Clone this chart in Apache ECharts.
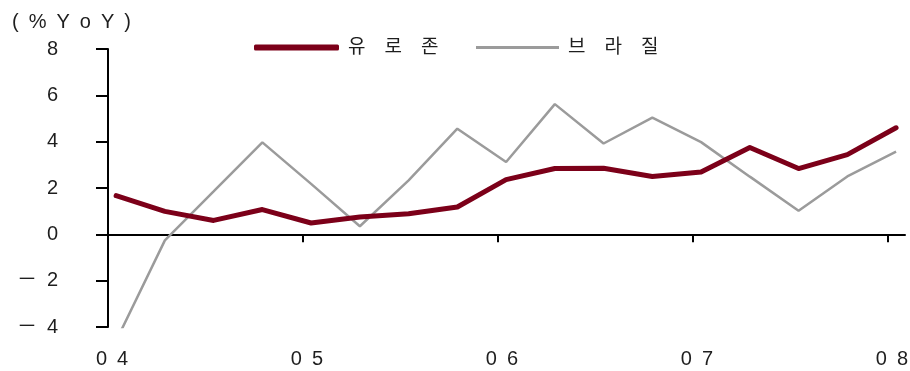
<!DOCTYPE html>
<html>
<head>
<meta charset="utf-8">
<script src="https://cdn.jsdelivr.net/npm/echarts@6/dist/echarts.min.js"></script>
<style>
  html, body { margin: 0; padding: 0; background: #fff; }
  #chart { width: 910px; height: 371px; }
</style>
</head>
<body>
<div id="chart"></div>
<script>
// Quarterly GDP growth, % YoY
const quarters = ['04Q1','04Q2','04Q3','04Q4','05Q1','05Q2','05Q3','05Q4',
                  '06Q1','06Q2','06Q3','06Q4','07Q1','07Q2','07Q3','07Q4','08Q1'];
const eurozone = [1.67, 0.99, 0.60, 1.07, 0.49, 0.75, 0.89, 1.18,
                  2.36, 2.84, 2.85, 2.50, 2.69, 3.75, 2.84, 3.44, 4.60];
const brazil   = [-4.60, -0.26, 1.85, 3.97, 2.18, 0.35, 2.33, 4.56,
                  3.12, 5.62, 3.92, 5.04, 3.98, 2.49, 1.02, 2.50, 3.57];
const yearLabels = ['04', '05', '06', '07', '08'];
const seriesNames = ['유로존', '브라질'];

// place each quarter's value half a month into its quarter (months since Jan 2004)
function quarterToMonth(q) {
  const yr = parseInt(q.slice(0, 2), 10) - 4;
  const qi = parseInt(q.slice(3), 10) - 1;
  return yr * 12 + qi * 3 + 0.5;
}
const pairs = (vals) => quarters.map((q, i) => [quarterToMonth(q), vals[i]]);

const spaced = (s, sep) => s.split('').join(sep);
const EN = '\u2002';
const FONT = '"Liberation Sans", "Noto Sans CJK KR", sans-serif';
const TXT = '#1e1e1e';

const chart = echarts.init(document.getElementById('chart'), null, { renderer: 'canvas' });
chart.setOption({
  animation: false,
  backgroundColor: '#ffffff',
  title: {
    text: spaced('(%YoY)', EN),
    left: 7, top: 7,
    textStyle: { fontFamily: FONT, fontSize: 20, fontWeight: 'normal', color: TXT }
  },
  legend: [
    {
      data: [{ name: seriesNames[0], icon: 'roundRect' }],
      left: 249, top: 33,
      itemWidth: 85, itemHeight: 6,
      formatter: (n) => spaced(n, '\u3000'),
      textStyle: { fontFamily: FONT, fontSize: 19, color: TXT, padding: [0, 0, 0, 4] }
    },
    {
      data: [{ name: seriesNames[1], icon: 'rect' }],
      left: 471, top: 33,
      itemWidth: 83, itemHeight: 3,
      formatter: (n) => spaced(n, '\u3000'),
      textStyle: { fontFamily: FONT, fontSize: 19, color: TXT, padding: [0, 0, 0, 4] }
    }
  ],
  grid: { left: 108, right: 5, top: 49, bottom: 44, containLabel: false, outerBoundsMode: 'none' },
  xAxis: {
    type: 'value',
    min: 0, max: 49.05, interval: 12,
    splitLine: { show: false },
    axisLine: { onZero: true, lineStyle: { color: '#000', width: 2 } },
    axisTick: { show: true, length: 8, inside: false, lineStyle: { color: '#000', width: 2 } },
    axisLabel: {
      margin: 22,
      fontFamily: FONT, fontSize: 20, color: TXT,
      padding: [0, 0, 0, 8],
      formatter: (v) => {
        const i = Math.round(v / 12);
        return yearLabels[i] !== undefined ? spaced(yearLabels[i], EN) : '';
      }
    }
  },
  yAxis: {
    type: 'value',
    min: -4, max: 8, interval: 2,
    splitLine: { show: false },
    axisLine: { show: true, onZero: false, lineStyle: { color: '#000', width: 2 } },
    axisTick: { show: true, length: 12, lineStyle: { color: '#000', width: 2 } },
    axisLabel: {
      margin: 50,
      fontFamily: FONT, fontSize: 20, color: TXT,
      formatter: (v) => v < 0 ? '－' + EN + Math.abs(v) : String(v)
    }
  },
  series: [
    {
      name: seriesNames[0],
      type: 'line',
      data: pairs(eurozone),
      symbol: 'none',
      clip: true,
      z: 3,
      itemStyle: { color: '#7c0019' },
      lineStyle: { color: '#7c0019', width: 5, cap: 'round', join: 'round' }
    },
    {
      name: seriesNames[1],
      type: 'line',
      data: pairs(brazil),
      symbol: 'none',
      clip: true,
      z: 2,
      itemStyle: { color: '#9b9b9b' },
      lineStyle: { color: '#9b9b9b', width: 2.5 }
    }
  ]
});
</script>
</body>
</html>
